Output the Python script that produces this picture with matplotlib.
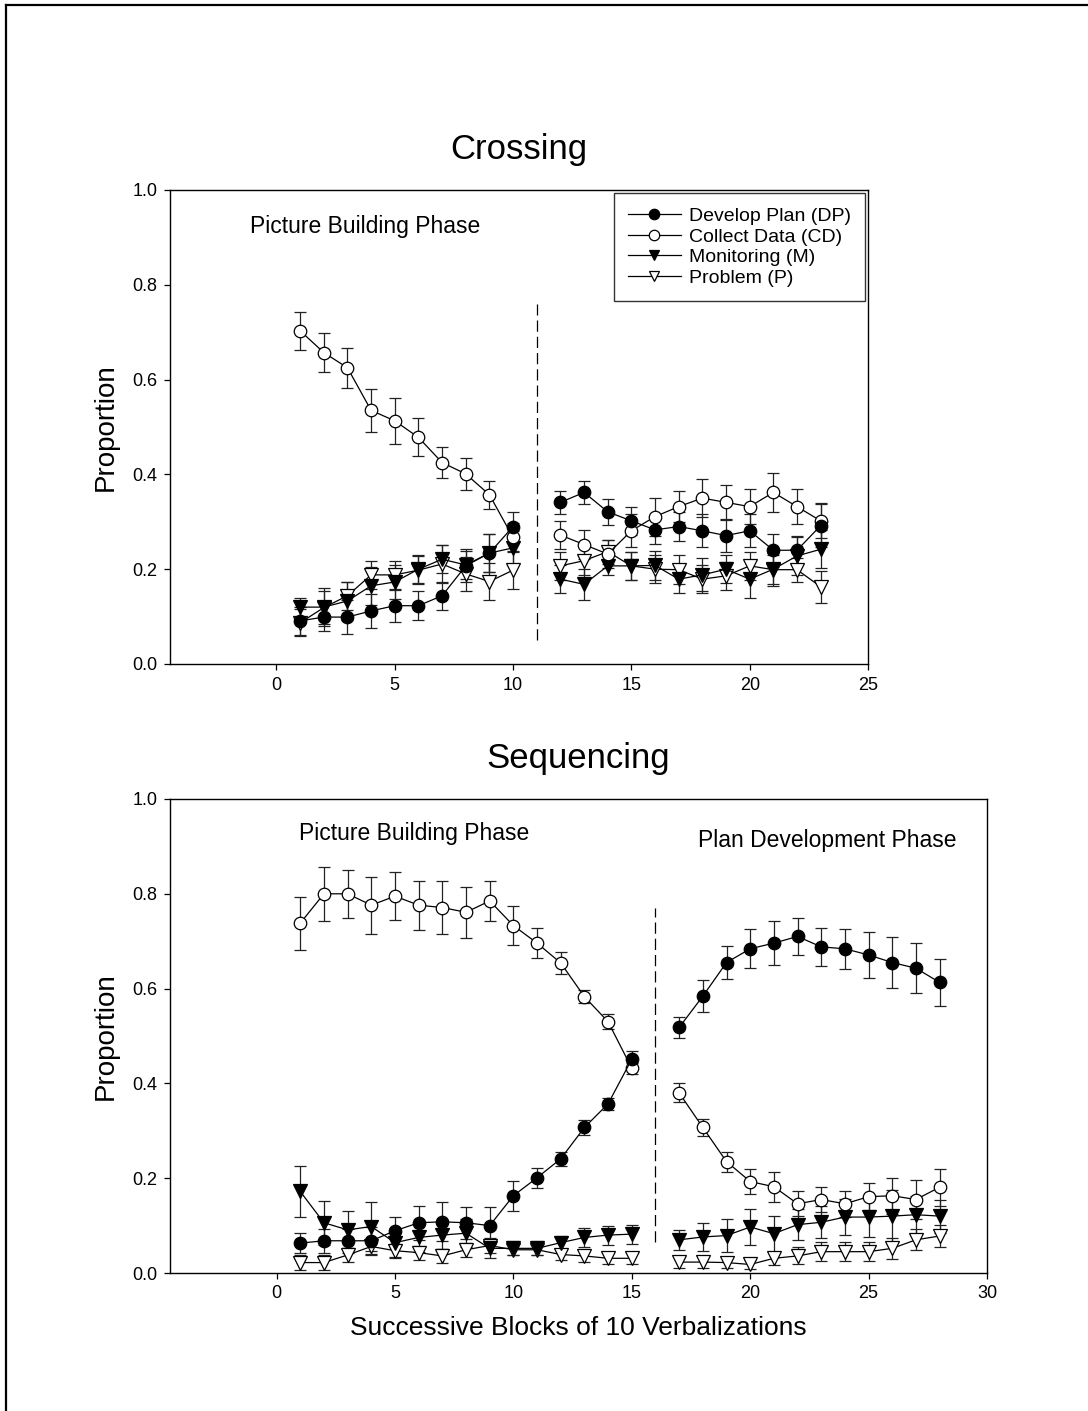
import matplotlib
matplotlib.use("Agg")
import matplotlib.pyplot as plt
from matplotlib.lines import Line2D

plt.rcParams['font.family'] = ['Liberation Sans', 'DejaVu Sans']

# ---------------- Crossing data ----------------
cross_x_a = [1, 2, 3, 4, 5, 6, 7, 8, 9, 10]
cross_x_b = [12, 13, 14, 15, 16, 17, 18, 19, 20, 21, 22, 23]

cross_dp_a = [0.091, 0.099, 0.099, 0.112, 0.123, 0.123, 0.144, 0.207, 0.234, 0.290]
cross_dp_a_err = [0.03, 0.03, 0.035, 0.035, 0.034, 0.03, 0.03, 0.035, 0.04, 0.03]
cross_dp_b = [0.341, 0.362, 0.321, 0.302, 0.283, 0.290, 0.281, 0.271, 0.281, 0.240, 0.240, 0.292]
cross_dp_b_err = [0.025, 0.024, 0.027, 0.03, 0.03, 0.03, 0.035, 0.035, 0.035, 0.035, 0.03, 0.045]

cross_cd_a = [0.703, 0.657, 0.625, 0.535, 0.513, 0.478, 0.425, 0.401, 0.357, 0.267]
cross_cd_a_err = [0.04, 0.041, 0.042, 0.045, 0.048, 0.04, 0.033, 0.033, 0.029, 0.03]
cross_cd_b = [0.272, 0.252, 0.232, 0.281, 0.311, 0.332, 0.350, 0.341, 0.332, 0.362, 0.332, 0.302]
cross_cd_b_err = [0.03, 0.03, 0.03, 0.035, 0.04, 0.032, 0.04, 0.037, 0.037, 0.042, 0.037, 0.037]

cross_m_a = [0.120, 0.120, 0.133, 0.165, 0.173, 0.200, 0.221, 0.209, 0.234, 0.245]
cross_m_a_err = [0.02, 0.04, 0.04, 0.04, 0.035, 0.03, 0.03, 0.03, 0.04, 0.035]
cross_m_b = [0.179, 0.168, 0.207, 0.207, 0.208, 0.179, 0.188, 0.200, 0.179, 0.200, 0.228, 0.242]
cross_m_b_err = [0.03, 0.033, 0.02, 0.03, 0.03, 0.03, 0.035, 0.03, 0.04, 0.035, 0.04, 0.04]

cross_p_a = [0.087, 0.119, 0.144, 0.188, 0.188, 0.198, 0.211, 0.190, 0.174, 0.198]
cross_p_a_err = [0.028, 0.035, 0.03, 0.03, 0.03, 0.03, 0.04, 0.035, 0.04, 0.04]
cross_p_b = [0.207, 0.218, 0.237, 0.207, 0.200, 0.199, 0.179, 0.186, 0.207, 0.199, 0.199, 0.163]
cross_p_b_err = [0.03, 0.03, 0.025, 0.03, 0.03, 0.03, 0.03, 0.03, 0.03, 0.03, 0.025, 0.034]

# ---------------- Sequencing data ----------------
seq_x_a = [1, 2, 3, 4, 5, 6, 7, 8, 9, 10, 11, 12, 13, 14, 15]
seq_x_b = [17, 18, 19, 20, 21, 22, 23, 24, 25, 26, 27, 28]

seq_dp_a = [0.063, 0.068, 0.068, 0.068, 0.089, 0.106, 0.108, 0.106, 0.100, 0.163, 0.201, 0.241, 0.307, 0.357, 0.451]
seq_dp_a_err = [0.021, 0.025, 0.025, 0.03, 0.03, 0.036, 0.041, 0.034, 0.039, 0.032, 0.021, 0.015, 0.015, 0.013, 0.017]
seq_dp_b = [0.518, 0.584, 0.655, 0.684, 0.696, 0.710, 0.688, 0.684, 0.671, 0.655, 0.643, 0.613]
seq_dp_b_err = [0.023, 0.034, 0.034, 0.041, 0.046, 0.040, 0.040, 0.042, 0.048, 0.053, 0.053, 0.050]

seq_cd_a = [0.738, 0.800, 0.800, 0.776, 0.795, 0.776, 0.771, 0.761, 0.785, 0.733, 0.696, 0.654, 0.583, 0.530, 0.432]
seq_cd_a_err = [0.056, 0.057, 0.05, 0.06, 0.05, 0.052, 0.055, 0.054, 0.043, 0.042, 0.032, 0.024, 0.014, 0.016, 0.012]
seq_cd_b = [0.380, 0.307, 0.235, 0.193, 0.182, 0.146, 0.155, 0.146, 0.161, 0.163, 0.155, 0.181]
seq_cd_b_err = [0.020, 0.018, 0.021, 0.026, 0.032, 0.026, 0.027, 0.028, 0.028, 0.038, 0.041, 0.039]

seq_m_a = [0.172, 0.106, 0.091, 0.098, 0.064, 0.075, 0.080, 0.084, 0.052, 0.052, 0.052, 0.064, 0.075, 0.080, 0.082]
seq_m_a_err = [0.053, 0.046, 0.039, 0.051, 0.03, 0.03, 0.03, 0.03, 0.02, 0.015, 0.015, 0.015, 0.02, 0.02, 0.02]
seq_m_b = [0.070, 0.076, 0.079, 0.097, 0.083, 0.102, 0.107, 0.118, 0.118, 0.120, 0.123, 0.120]
seq_m_b_err = [0.021, 0.029, 0.034, 0.037, 0.038, 0.032, 0.034, 0.038, 0.042, 0.056, 0.04, 0.035]

seq_p_a = [0.022, 0.022, 0.038, 0.056, 0.047, 0.043, 0.036, 0.049, 0.058, 0.049, 0.049, 0.039, 0.036, 0.031, 0.031]
seq_p_a_err = [0.015, 0.015, 0.015, 0.015, 0.015, 0.015, 0.015, 0.015, 0.015, 0.012, 0.012, 0.012, 0.012, 0.012, 0.012]
seq_p_b = [0.023, 0.023, 0.022, 0.018, 0.031, 0.036, 0.045, 0.045, 0.045, 0.052, 0.070, 0.078]
seq_p_b_err = [0.012, 0.012, 0.012, 0.010, 0.014, 0.018, 0.02, 0.02, 0.02, 0.022, 0.022, 0.024]

labels = ["Develop Plan (DP)", "Collect Data (CD)", "Monitoring (M)", "Problem (P)"]
yticks = [0.0, 0.2, 0.4, 0.6, 0.8, 1.0]

W, H = 1088, 1411
fig = plt.figure(figsize=(W / 100, H / 100), dpi=100)

# figure border (top and left edges)
fig.add_artist(Line2D([6 / W, 6 / W], [0, 1 - 5 / H], transform=fig.transFigure, color='black', lw=1.6))
fig.add_artist(Line2D([6 / W, 1], [1 - 5 / H, 1 - 5 / H], transform=fig.transFigure, color='black', lw=1.6))

ax1 = fig.add_axes([170 / W, 1 - 664 / H, 698 / W, 474 / H])
ax2 = fig.add_axes([170 / W, 1 - 1273 / H, 817 / W, 474 / H])

styles = [
    dict(marker='o', mfc='black', mec='black', ms=9),
    dict(marker='o', mfc='white', mec='black', ms=9),
    dict(marker='v', mfc='black', mec='black', ms=9.5),
    dict(marker='v', mfc='white', mec='black', ms=9.5),
]


def draw(ax, x, y, e, st):
    ax.errorbar(x, y, yerr=e, color='black', lw=0.9, ecolor='#222222', elinewidth=0.9,
                capsize=4, capthick=0.9, mew=0.9, **st)


cross_sets = [
    (cross_dp_a, cross_dp_a_err, cross_dp_b, cross_dp_b_err),
    (cross_cd_a, cross_cd_a_err, cross_cd_b, cross_cd_b_err),
    (cross_m_a, cross_m_a_err, cross_m_b, cross_m_b_err),
    (cross_p_a, cross_p_a_err, cross_p_b, cross_p_b_err),
]
seq_sets = [
    (seq_dp_a, seq_dp_a_err, seq_dp_b, seq_dp_b_err),
    (seq_cd_a, seq_cd_a_err, seq_cd_b, seq_cd_b_err),
    (seq_m_a, seq_m_a_err, seq_m_b, seq_m_b_err),
    (seq_p_a, seq_p_a_err, seq_p_b, seq_p_b_err),
]

for idx in [3, 2, 1, 0]:
    ya, ea, yb, eb = cross_sets[idx]
    draw(ax1, cross_x_a, ya, ea, styles[idx])
    draw(ax1, cross_x_b, yb, eb, styles[idx])
    ya, ea, yb, eb = seq_sets[idx]
    draw(ax2, seq_x_a, ya, ea, styles[idx])
    draw(ax2, seq_x_b, yb, eb, styles[idx])

# phase separators
ax1.plot([11, 11], [0.05, 0.76], color='black', lw=0.9, ls=(0, (9, 4)))
ax2.plot([16, 16], [0.066, 0.77], color='black', lw=0.9, ls=(0, (9, 4)))

for ax, xmax, xt in [(ax1, 25, [0, 5, 10, 15, 20, 25]), (ax2, 30, [0, 5, 10, 15, 20, 25, 30])]:
    ax.set_xlim(-4.5, xmax)
    ax.set_ylim(0, 1.0)
    ax.set_xticks(xt)
    ax.set_yticks(yticks)
    ax.set_yticklabels([f"{v:.1f}" for v in yticks])
    ax.tick_params(direction='out', length=4, width=0.9, labelsize=13, top=False, right=False, pad=5)
    for s in ax.spines.values():
        s.set_linewidth(1.0)
    ax.set_ylabel("Proportion", fontsize=20, labelpad=10)

ax1.set_title("Crossing", fontsize=25, pad=22)
ax2.set_title("Sequencing", fontsize=25, pad=22)

ax1.text(-1.14, 0.922, "Picture Building Phase", fontsize=16.5, va='center', ha='left')
ax2.text(0.93, 0.928, "Picture Building Phase", fontsize=16.5, va='center', ha='left')
ax2.text(17.8, 0.913, "Plan Development Phase", fontsize=16.5, va='center', ha='left')

ax2.set_xlabel("Successive Blocks of 10 Verbalizations", fontsize=19, labelpad=10)

handles = [Line2D([], [], color='black', lw=0.9, mew=0.9, **dict(st, ms=7.5)) for st in styles]
leg = ax1.legend(handles, labels, loc='upper right', fontsize=14, frameon=True, fancybox=False,
                 edgecolor='black', borderaxespad=0.15, handlelength=2.7, handletextpad=0.4,
                 labelspacing=0.15, borderpad=0.75)
leg.get_frame().set_linewidth(1.0)

fig.savefig("out.png", dpi=100)
